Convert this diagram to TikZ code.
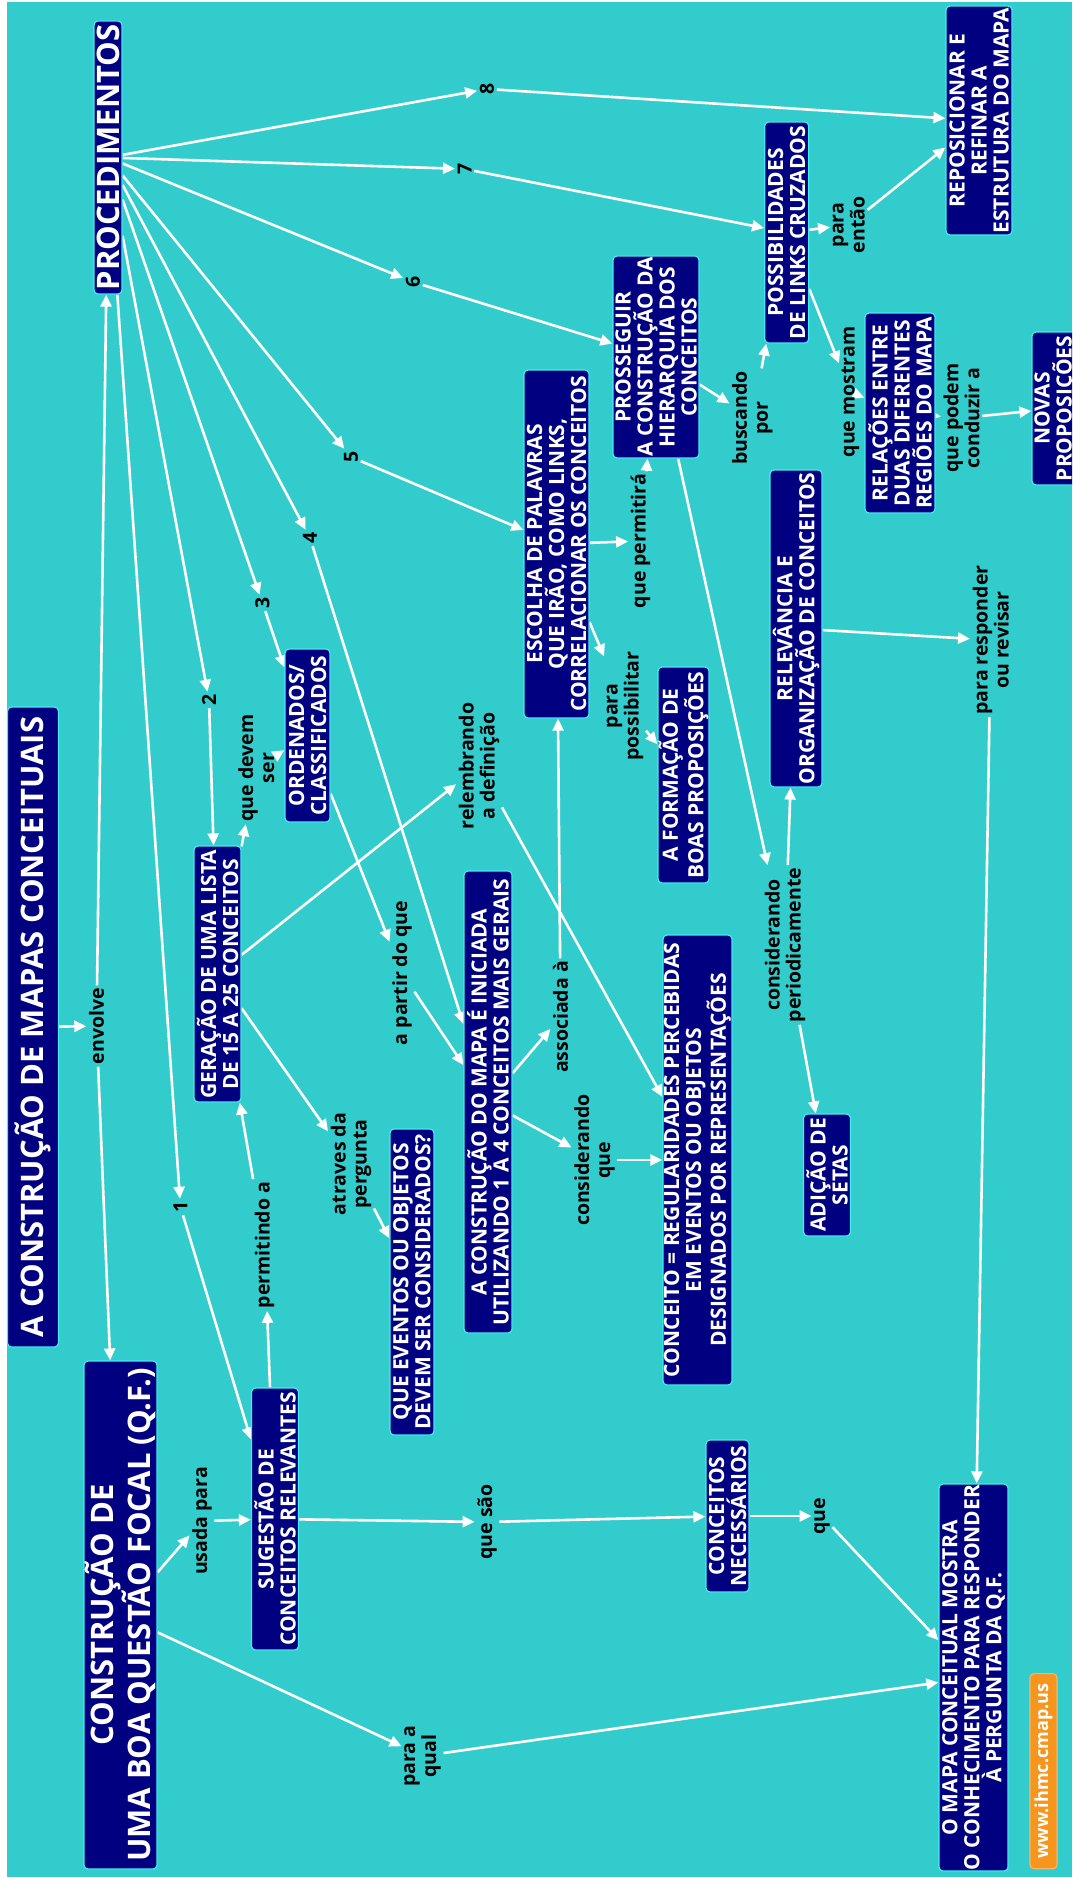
\documentclass[tikz,border=0pt]{standalone}
\usepackage{fontspec}
\setmainfont{Open Sans}
\usetikzlibrary{arrows.meta}
\definecolor{bgcyan}{RGB}{51,204,204}
\definecolor{navy}{RGB}{0,0,128}
\definecolor{rim}{RGB}{70,235,240}
\definecolor{tag}{RGB}{246,150,30}
\pgfdeclarelayer{back}
\pgfdeclarelayer{edges}
\pgfsetlayers{back,edges,main}

\begin{document}
\begin{tikzpicture}[x=1pt,y=-1pt,
  concept/.style={rotate=90, draw=rim, line width=1.2pt, fill=navy, text=white,
    font=\bfseries\fontsize{21}{22}\selectfont, align=center,
    rounded corners=4pt, inner sep=0pt},
  big/.style={concept, font=\bfseries\fontsize{31}{32}\selectfont},
  phrase/.style={rotate=90, text=black, font=\bfseries\fontsize{19.5}{21}\selectfont,
    align=center, inner sep=2.5pt},
  link/.style={draw=white, line width=2.6pt, -{Triangle[length=12pt,width=11pt]}},
]
\useasboundingbox (0,0) rectangle (1072,1878);
\begin{pgfonlayer}{back}
  \fill[white] (0,0) rectangle (1072,1878);
  \fill[bgcyan] (7,2) rectangle (1072,1877);
\end{pgfonlayer}
\clip (0,0) rectangle (1072,1878);

% concepts
\node[big, minimum width=640, minimum height=51] (title) at (33,1027) {A CONSTRUÇÃO DE MAPAS CONCEITUAIS};
\node[big, minimum width=273, minimum height=28] (proc) at (108,157.5) {PROCEDIMENTOS};
\node[big, minimum width=508, minimum height=73] (qf) at (120.5,1615) {CONSTRUÇÃO DE\\UMA BOA QUESTÃO FOCAL (Q.F.)};
\node[concept, minimum width=262, minimum height=47] (sug) at (275,1519) {SUGESTÃO DE\\CONCEITOS RELEVANTES};
\node[concept, minimum width=256, minimum height=47] (ger) at (217.5,974) {GERAÇÃO DE UMA LISTA\\DE 15 A 25 CONCEITOS};
\node[concept, minimum width=306, minimum height=44] (qev) at (412,1282) {QUE EVENTOS OU OBJETOS\\DEVEM SER CONSIDERADOS?};
\node[concept, minimum width=173, minimum height=45] (ord) at (307.5,735.5) {ORDENADOS/\\CLASSIFICADOS};
\node[concept, minimum width=462, minimum height=48] (cmi) at (488,1102) {A CONSTRUÇÃO DO MAPA É INICIADA\\UTILIZANDO 1 A 4 CONCEITOS MAIS GERAIS};
\node[concept, minimum width=348, minimum height=65] (esc) at (556.5,544) {ESCOLHA DE PALAVRAS\\QUE IRÃO, COMO LINKS,\\CORRELACIONAR OS CONCEITOS};
\node[concept, minimum width=450, minimum height=69] (cdef) at (697.5,1160) {CONCEITO = REGULARIDADES PERCEBIDAS\\EM EVENTOS OU OBJETOS\\DESIGNADOS POR REPRESENTAÇÕES};
\node[concept, minimum width=216, minimum height=51] (form) at (683.5,775) {A FORMAÇÃO DE\\BOAS PROPOSIÇÕES};
\node[concept, minimum width=202, minimum height=86] (pros) at (656,357) {PROSSEGUIR\\A CONSTRUÇÃO DA\\HIERARQUIA DOS\\CONCEITOS};
\node[concept, minimum width=221, minimum height=44] (poss) at (786.7,232.5) {POSSIBILIDADES\\DE LINKS CRUZADOS};
\node[concept, minimum width=229, minimum height=66] (repo) at (979,120.5) {REPOSICIONAR E\\REFINAR A\\ESTRUTURA DO MAPA};
\node[concept, minimum width=200, minimum height=70] (rel) at (900,413) {RELAÇÕES ENTRE\\DUAS DIFERENTES\\REGIÕES DO MAPA};
\node[concept, minimum width=153, minimum height=47] (nov) at (1055.5,408.5) {NOVAS\\PROPOSIÇÕES};
\node[concept, minimum width=317, minimum height=52] (relv) at (796,628.5) {RELEVÂNCIA E\\ORGANIZAÇÃO DE CONCEITOS};
\node[concept, minimum width=122, minimum height=47] (adic) at (827,1175) {ADIÇÃO DE\\SETAS};
\node[concept, minimum width=152, minimum height=43] (cnec) at (727.5,1516) {CONCEITOS\\NECESSÁRIOS};
\node[concept, minimum width=387, minimum height=69] (mapa) at (973.5,1677.5) {O MAPA CONCEITUAL MOSTRA\\O CONHECIMENTO PARA RESPONDER\\À PERGUNTA DA Q.F.};
\node[concept, fill=tag, draw=tag!70!white, anchor=east, inner xsep=10pt,
  minimum height=27, font=\bfseries\fontsize{18}{20}\selectfont] (www) at (1043.5,1673) {www.ihmc.cmap.us};

% linking phrases
\node[phrase] (lenv) at (96.5,1026) {envolve};
\node[phrase] (n1) at (180.5,1207) {1};
\node[phrase] (n2) at (209,700) {2};
\node[phrase] (n3) at (262.5,603) {3};
\node[phrase] (n4) at (310,538) {4};
\node[phrase] (n5) at (351,457) {5};
\node[phrase] (n6) at (413,282) {6};
\node[phrase] (n7) at (464.6,169) {7};
\node[phrase] (n8) at (487,89) {8};
\node[phrase] (lperm) at (264.6,1245) {permitindo a};
\node[phrase] (ldev) at (256.4,768) {que devem\\ser};
\node[phrase] (latr) at (351,1164) {atraves da\\pergunta};
\node[phrase] (lpar) at (402,973) {a partir do que};
\node[phrase] (lrel) at (479,766) {relembrando\\a definição};
\node[phrase] (lass) at (560.6,1017) {associada à};
\node[phrase] (lcq) at (594.5,1160) {considerando\\que};
\node[phrase] (lpos) at (625,706) {para\\possibilitar};
\node[phrase] (lpm) at (640.6,541) {que permitirá};
\node[phrase] (lbus) at (752.4,418) {buscando\\por};
\node[phrase] (lent) at (848.8,225) {para\\então};
\node[phrase] (lmos) at (850.5,392) {que mostram};
\node[phrase] (lcon) at (961.6,418) {que podem\\conduzir a};
\node[phrase] (lper) at (785,945) {considerando\\periodicamente};
\node[phrase] (lresp) at (990.7,640) {para responder\\ou revisar};
\node[phrase] (lsao) at (487,1522) {que são};
\node[phrase] (lusa) at (202,1521) {usada para};
\node[phrase] (lqual) at (422.6,1756) {para a\\qual};
\node[phrase] (lque) at (822,1516) {que};

% connectors
\begin{pgfonlayer}{edges}
  \draw[link] (title) -- (lenv);
  \draw[link] (lenv) -- (proc);
  \draw[link] (lenv) -- (qf);
  \foreach \k in {n1,n2,n3,n4,n5,n6,n7,n8} \draw[link] (proc) -- (\k);
  \draw[link] (n1) -- (sug);
  \draw[link] (n2) -- (ger);
  \draw[link] (n3) -- (ord);
  \draw[link] (n4) -- (cmi);
  \draw[link] (n5) -- (esc);
  \draw[link] (n6) -- (pros);
  \draw[link] (n7) -- (poss);
  \draw[link] (n8) -- (repo);
  \draw[link] (qf) -- (lusa);
  \draw[link] (lusa) -- (sug);
  \draw[link] (qf) -- (lqual);
  \draw[link] (lqual) -- (mapa);
  \draw[link] (sug) -- (lsao);
  \draw[link] (lsao) -- (cnec);
  \draw[link] (cnec) -- (lque);
  \draw[link] (lque) -- (mapa);
  \draw[link] (sug) -- (lperm);
  \draw[link] (lperm) -- (ger);
  \draw[link] (ger) -- (ldev);
  \draw[link] (ldev) -- (ord);
  \draw[link] (ger) -- (latr);
  \draw[link] (latr) -- (qev);
  \draw[link] (ger) -- (lrel);
  \draw[link] (lrel) -- (cdef);
  \draw[link] (ord) -- (lpar);
  \draw[link] (lpar) -- (cmi);
  \draw[link] (cmi) -- (lass);
  \draw[link] (lass) -- (esc);
  \draw[link] (cmi) -- (lcq);
  \draw[link] (lcq) -- (cdef);
  \draw[link] (esc) -- (lpm);
  \draw[link] (lpm) -- (pros);
  \draw[link] (esc) -- (lpos);
  \draw[link] (lpos) -- (form);
  \draw[link] (pros) -- (lbus);
  \draw[link] (lbus) -- (poss);
  \draw[link] (pros) -- (lper);
  \draw[link] (lper) -- (relv);
  \draw[link] (lper) -- (adic);
  \draw[link] (relv) -- (lresp);
  \draw[link] (lresp) -- (mapa);
  \draw[link] (poss) -- (lent);
  \draw[link] (lent) -- (repo);
  \draw[link] (poss) -- (lmos);
  \draw[link] (lmos) -- (rel);
  \draw[link] (rel) -- (lcon);
  \draw[link] (lcon) -- (nov);
\end{pgfonlayer}
\end{tikzpicture}
\end{document}
